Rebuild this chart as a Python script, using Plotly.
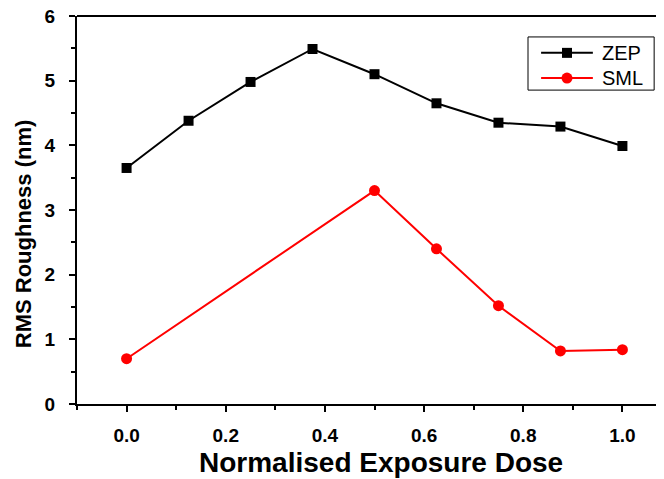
import plotly.graph_objects as go

dose = [0.0, 0.125, 0.25, 0.375, 0.5, 0.625, 0.75, 0.875, 1.0]
zep = [3.65, 4.38, 4.98, 5.49, 5.10, 4.65, 4.35, 4.29, 3.99]
sml_dose = [0.0, 0.5, 0.625, 0.75, 0.875, 1.0]
sml = [0.70, 3.30, 2.40, 1.52, 0.82, 0.84]

x_ticks = [0.0, 0.2, 0.4, 0.6, 0.8, 1.0]
x_tick_labels = ["0.0", "0.2", "0.4", "0.6", "0.8", "1.0"]
y_ticks = [0, 1, 2, 3, 4, 5, 6]

series_names = ["ZEP", "SML"]
series_colors = ["black", "#ff0000"]
series_symbols = ["square", "circle"]

x_title = "Normalised Exposure Dose"
y_title = "RMS Roughness (nm)"

font_family = "Liberation Sans, Arial, sans-serif"

fig = go.Figure()
fig.add_trace(go.Scatter(x=dose, y=zep, name=series_names[0], mode="lines+markers",
                         line=dict(color=series_colors[0], width=2),
                         marker=dict(symbol=series_symbols[0], size=10, color=series_colors[0])))
fig.add_trace(go.Scatter(x=sml_dose, y=sml, name=series_names[1], mode="lines+markers",
                         line=dict(color=series_colors[1], width=2),
                         marker=dict(symbol=series_symbols[1], size=11, color=series_colors[1])))

fig.update_layout(
    width=664, height=479,
    margin=dict(l=69, r=0, t=8, b=83),
    plot_bgcolor="white", paper_bgcolor="white",
    font=dict(family=font_family, color="black"),
    showlegend=False,
    xaxis=dict(range=[-0.1, 1.1], tickvals=x_ticks, ticktext=x_tick_labels,
               automargin=False,
               showline=True, linecolor="black", linewidth=2, mirror=False,
               ticks="outside", ticklen=6, tickwidth=2, tickcolor="black",
               ticklabelstandoff=7, ticklabeloverflow="allow",
               minor=dict(dtick=0.1, tick0=0, ticks="outside", ticklen=4, tickwidth=2, tickcolor="black"),
               showgrid=False, zeroline=False,
               tickfont=dict(size=19, family=font_family, weight="bold")),
    yaxis=dict(range=[0, 6], tickvals=y_ticks,
               automargin=False,
               showline=True, linecolor="black", linewidth=2,
               ticks="outside", ticklen=6, tickwidth=2, tickcolor="black",
               ticklabelstandoff=10, ticklabeloverflow="allow",
               minor=dict(dtick=0.5, tick0=0, ticks="outside", ticklen=4, tickwidth=2, tickcolor="black"),
               showgrid=False, zeroline=False,
               tickfont=dict(size=19, family=font_family, weight="bold")),
)
# axis titles
fig.add_annotation(text="<b>" + x_title + "</b>", xref="paper", yref="paper",
                   x=0.511, y=-0.1495, xanchor="center", yanchor="middle",
                   showarrow=False, font=dict(size=28, family=font_family, color="black"))
fig.add_annotation(text="<b>" + y_title + "</b>", xref="paper", yref="paper",
                   x=-0.0908, y=0.44, xanchor="center", yanchor="middle", textangle=-90,
                   showarrow=False, font=dict(size=22, family=font_family, color="black"))
# top border line
fig.add_shape(type="line", xref="paper", yref="paper", x0=0, x1=1, y0=1, y1=1,
              line=dict(color="black", width=2))

# legend (drawn as a boxed key in the upper right)
fig.add_shape(type="rect", xref="paper", yref="paper", x0=0.758, x1=0.970, y0=0.809, y1=0.946,
              line=dict(color="black", width=1), fillcolor="white", layer="above")
key_rows_y = [0.905, 0.840]
marker_px = [10, 11]
for i, name in enumerate(series_names):
    yk = key_rows_y[i]
    fig.add_shape(type="line", xref="paper", yref="paper", x0=0.780, x1=0.867, y0=yk, y1=yk,
                  line=dict(color=series_colors[i], width=2), layer="above")
    s = marker_px[i] / 2
    fig.add_shape(type="rect" if series_symbols[i] == "square" else "circle",
                  xref="paper", yref="paper", xsizemode="pixel", ysizemode="pixel",
                  xanchor=0.8235, yanchor=yk, x0=-s, x1=s, y0=-s, y1=s,
                  line=dict(color=series_colors[i], width=0), fillcolor=series_colors[i], layer="above")
    fig.add_annotation(text=name, xref="paper", yref="paper", x=0.879, y=yk,
                       xanchor="left", yanchor="middle", showarrow=False,
                       font=dict(size=20, family=font_family, color="black"))

fig.write_html("out.html")
